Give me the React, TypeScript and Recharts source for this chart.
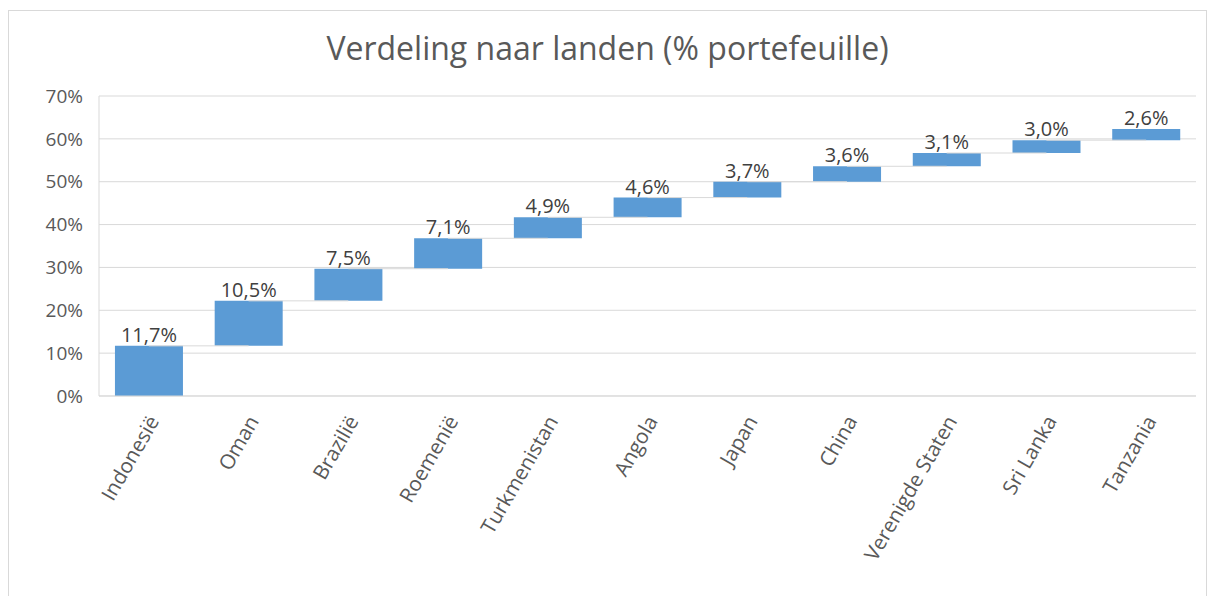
import { BarChart, Bar, XAxis, YAxis, CartesianGrid, LabelList, ReferenceLine } from "recharts";

const countries = [
  "Indonesië",
  "Oman",
  "Brazilië",
  "Roemenië",
  "Turkmenistan",
  "Angola",
  "Japan",
  "China",
  "Verenigde Staten",
  "Sri Lanka",
  "Tanzania",
];
const shares = [11.7, 10.5, 7.5, 7.1, 4.9, 4.6, 3.7, 3.6, 3.1, 3.0, 2.6];
const yTicks = [0, 10, 20, 30, 40, 50, 60, 70];

let running = 0;
const data = countries.map((name, i) => {
  const base = running;
  running += shares[i];
  return { name, base, value: shares[i], top: running };
});

const FONT = "'Open Sans', 'Noto Sans', sans-serif";
const TEXT = "#595959";
const GRID = "#d9d9d9";
const BLUE = "#5b9bd5";

const fmt = (v: number) => v.toFixed(1).replace(".", ",") + "%";

function CategoryTick(props: any) {
  const { x, y, payload } = props;
  return (
    <g transform={`translate(${x + 11},${y + 17})`}>
      <text transform="rotate(-60)" textAnchor="end" fill={TEXT} fontSize={20.5} fontFamily={FONT}>
        {payload.value}
      </text>
    </g>
  );
}

export default function App() {
  return (
    <div
      style={{
        position: "absolute",
        left: 8,
        top: 10,
        width: 1197,
        height: 590,
        border: `1px solid ${GRID}`,
        background: "#fff",
        fontFamily: FONT,
      }}
    >
      <div
        style={{
          position: "absolute",
          top: 15,
          width: "100%",
          textAlign: "center",
          fontSize: 32,
          color: TEXT,
          fontFamily: FONT,
        }}
      >
        Verdeling naar landen (% portefeuille)
      </div>
      <BarChart
        width={1197}
        height={586}
        data={data}
        barCategoryGap="16%"
        margin={{ top: 85, right: 10, left: 30, bottom: 11 }}
      >
        <CartesianGrid stroke={GRID} vertical={false} />
        <XAxis
          dataKey="name"
          interval={0}
          height={190}
          tick={<CategoryTick />}
          tickLine={false}
          axisLine={{ stroke: GRID }}
        />
        <YAxis
          domain={[0, 70]}
          ticks={yTicks}
          width={60}
          tickMargin={10}
          tickFormatter={(v: number) => `${v}%`}
          tick={{ fill: TEXT, fontSize: 19, fontFamily: FONT }}
          tickLine={false}
          axisLine={{ stroke: GRID }}
        />
        {data.slice(0, -1).map((d, i) => (
          <ReferenceLine
            key={d.name}
            stroke={GRID}
            segment={[
              { x: d.name, y: d.top },
              { x: data[i + 1].name, y: d.top },
            ]}
          />
        ))}
        <Bar dataKey="base" stackId="w" fill="transparent" isAnimationActive={false} />
        <Bar dataKey="value" stackId="w" fill={BLUE} isAnimationActive={false}>
          <LabelList
            dataKey="value"
            position="top"
            formatter={(v: any) => fmt(Number(v))}
            fill="#404040"
            fontSize={20}
            fontFamily={FONT}
            offset={4}
          />
        </Bar>
      </BarChart>
    </div>
  );
}
